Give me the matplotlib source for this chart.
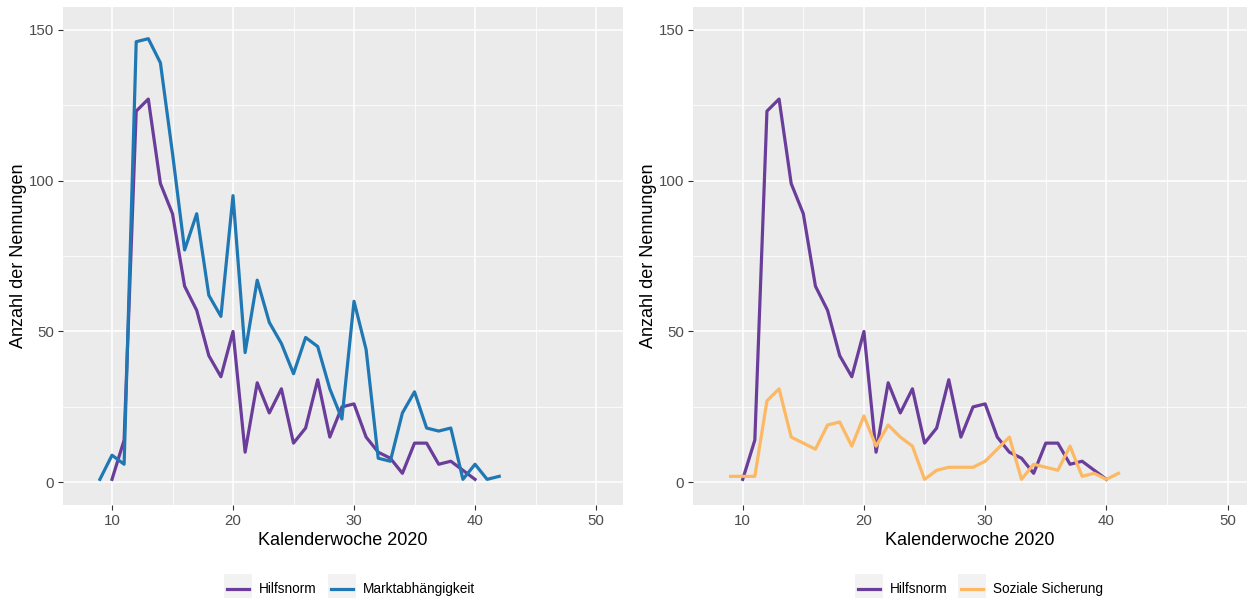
import numpy as np
import matplotlib
matplotlib.use('Agg')
import matplotlib.pyplot as plt
from matplotlib.patches import Rectangle
from matplotlib.lines import Line2D
from matplotlib.ticker import MultipleLocator

plt.rcParams['font.family'] = ['Liberation Sans', 'DejaVu Sans']

# Kalenderwochen und Nennungen
kw_hilfsnorm = np.arange(10, 41)
hilfsnorm = [1, 14, 123, 127, 99, 89, 65, 57, 42, 35, 50, 10, 33, 23, 31, 13,
             18, 34, 15, 25, 26, 15, 10, 8, 3, 13, 13, 6, 7, 4, 1]

kw_markt = np.arange(9, 43)
markt = [1, 9, 6, 146, 147, 139, 109, 77, 89, 62, 55, 95, 43, 67, 53, 46, 36,
         48, 45, 31, 21, 60, 44, 8, 7, 23, 30, 18, 17, 18, 1, 6, 1, 2]

kw_sozial = np.arange(9, 42)
sozial = [2, 2, 2, 27, 31, 15, 13, 11, 19, 20, 12, 22, 12, 19, 15, 12, 1, 4,
          5, 5, 5, 7, 11, 15, 1, 6, 5, 4, 12, 2, 3, 1, 3]

PURPLE = '#6A3D9A'
BLUE = '#1F78B4'
ORANGE = '#FDB863'

W, H = 1247, 599
fig = plt.figure(figsize=(W / 100, H / 100), dpi=100)


def px_axes(x0, y0, x1, y1):
    return fig.add_axes([x0 / W, 1 - y1 / H, (x1 - x0) / W, (y1 - y0) / H])


def style(ax, xlim):
    ax.set_facecolor('#EBEBEB')
    for s in ax.spines.values():
        s.set_visible(False)
    ax.set_xlim(*xlim)
    ax.set_ylim(-7.5, 157.5)
    ax.xaxis.set_major_locator(MultipleLocator(10))
    ax.xaxis.set_minor_locator(MultipleLocator(5))
    ax.yaxis.set_major_locator(MultipleLocator(50))
    ax.yaxis.set_minor_locator(MultipleLocator(25))
    ax.grid(which='major', color='white', lw=1.1)
    ax.grid(which='minor', color='white', lw=0.55)
    ax.set_axisbelow(True)
    ax.tick_params(which='major', length=3.5, width=0.8, color='#333333',
                   labelcolor='#4D4D4D', labelsize=10.8, pad=3)
    ax.tick_params(which='minor', length=0)
    ax.set_xlabel('Kalenderwoche 2020', fontsize=13, labelpad=3)
    ax.set_ylabel('Anzahl der Nennungen', fontsize=13, labelpad=1)


def legend(x_start, labels, colors, gaps):
    x = x_start
    for lab, col, gap in zip(labels, colors, gaps):
        fig.patches.append(Rectangle((x / W, 1 - 598 / H), 28 / W, 24 / H,
                                     transform=fig.transFigure,
                                     facecolor='#F2F2F2', edgecolor='none'))
        fig.lines.append(Line2D([(x + 3) / W, (x + 25) / W], [1 - 589 / H] * 2,
                                transform=fig.transFigure, color=col, lw=2.3))
        fig.text((x + 35) / W, 1 - 589 / H, lab, fontsize=9.8,
                 va='center', ha='left', color='black')
        x += gap


# linkes Panel
ax1 = px_axes(63, 7, 623, 505)
style(ax1, (5.95, 52.23))
ax1.plot(kw_hilfsnorm, hilfsnorm, color=PURPLE, lw=2.3)
ax1.plot(kw_markt, markt, color=BLUE, lw=2.3)
legend(224, ['Hilfsnorm', 'Marktabhängigkeit'], [PURPLE, BLUE], [104, 0])

# rechtes Panel
ax2 = px_axes(693, 7, 1247, 505)
style(ax2, (5.9, 51.6))
ax2.plot(kw_hilfsnorm, hilfsnorm, color=PURPLE, lw=2.3)
ax2.plot(kw_sozial, sozial, color=ORANGE, lw=2.3)
legend(855, ['Hilfsnorm', 'Soziale Sicherung'], [PURPLE, ORANGE], [103, 0])

fig.savefig('out.png', dpi=100)
